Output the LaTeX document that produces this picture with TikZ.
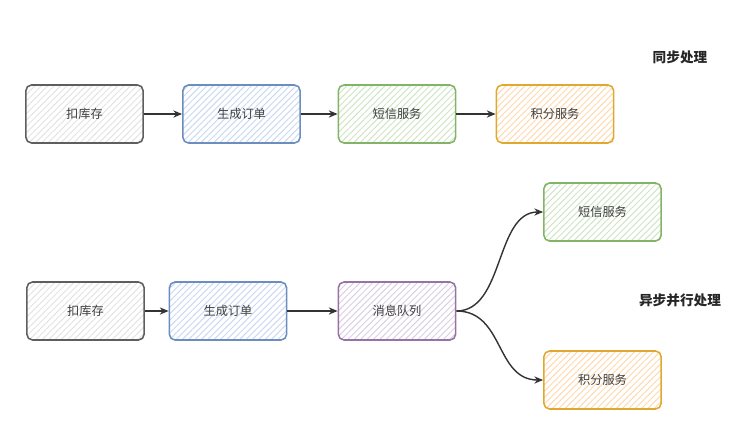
\documentclass[tikz,border=0pt]{standalone}
\usepackage{fontspec}
\setmainfont{Noto Sans CJK SC}
\usepackage{tikz}
\usetikzlibrary{arrows.meta,patterns.meta}

\definecolor{grayline}{HTML}{5E5E5E}
\definecolor{grayhatch}{HTML}{E3E3E3}
\definecolor{blueline}{HTML}{6C8EBF}
\definecolor{bluehatch}{HTML}{C9D9F2}
\definecolor{greenline}{HTML}{82B366}
\definecolor{greenhatch}{HTML}{CFE5C4}
\definecolor{orangeline}{HTML}{E0A82E}
\definecolor{orangehatch}{HTML}{FFD9B0}
\definecolor{purpleline}{HTML}{9673A6}
\definecolor{purplehatch}{HTML}{DCCFE3}
\definecolor{arrowline}{HTML}{333333}

\begin{document}
\begin{tikzpicture}[
  x=0.025cm, y=-0.025cm,
  task/.style={rounded corners=4pt, line width=1.1pt, align=center,
    minimum width=2.93cm, minimum height=1.45cm, font=\fontsize{8.7}{10}\selectfont,
    text=black!75},
  hatch/.style 2 args={task, draw=#1, pattern={Lines[angle=45,distance=3.2pt,line width=0.7pt]},
    pattern color=#2},
  arrow/.style={-{Stealth[length=2.2mm,width=1.8mm]}, line width=1pt, draw=arrowline},
  title/.style={font=\fontsize{9.7}{11}\selectfont\bfseries, text=black!85}
]
\useasboundingbox (0,0) rectangle (753,420);

% synchronous row
\node[hatch={grayline}{grayhatch}] (stock) at (84.5,114) {扣库存};
\node[hatch={blueline}{bluehatch}] (order) at (241.5,114) {生成订单};
\node[hatch={greenline}{greenhatch}] (sms) at (397,114) {短信服务};
\node[hatch={orangeline}{orangehatch}] (points) at (555,114) {积分服务};
\node[title] (synclabel) at (680,57) {同步处理};
\draw[arrow] (stock) -- (order);
\draw[arrow] (order) -- (sms);
\draw[arrow] (sms) -- (points);

% asynchronous row
\node[hatch={grayline}{grayhatch}] (astock) at (85.5,311) {扣库存};
\node[hatch={blueline}{bluehatch}] (aorder) at (228,311) {生成订单};
\node[hatch={purpleline}{purplehatch}] (queue) at (397,311) {消息队列};
\node[hatch={greenline}{greenhatch}] (asms) at (602.5,212) {短信服务};
\node[hatch={orangeline}{orangehatch}] (apoints) at (602.5,380) {积分服务};
\node[title] (asynclabel) at (680,300) {异步并行处理};
\draw[arrow] (astock) -- (aorder);
\draw[arrow] (aorder) -- (queue);
\draw[arrow] (queue.east) .. controls +(48,0) and +(-48,0) .. (asms.west);
\draw[arrow] (queue.east) .. controls +(48,0) and +(-48,0) .. (apoints.west);
\end{tikzpicture}
\end{document}
